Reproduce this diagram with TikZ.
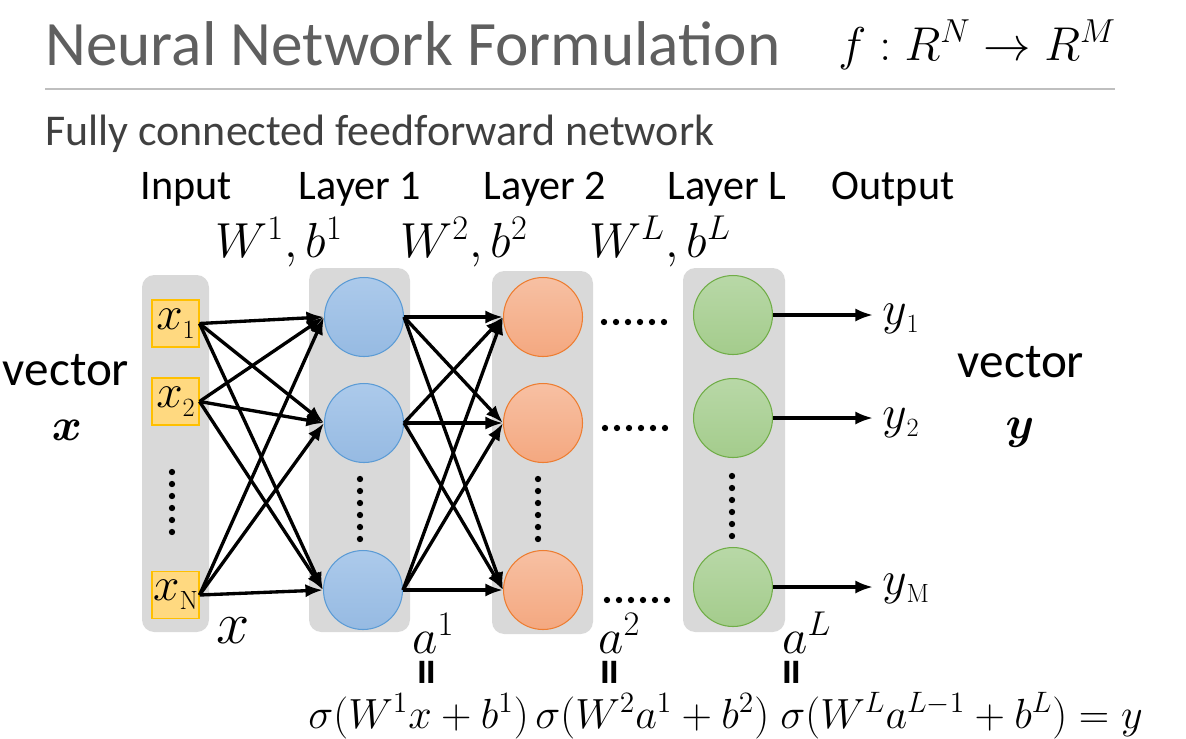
\RequirePackage{fix-cm}
\documentclass[tikz,border=0pt]{standalone}
\usepackage{amsmath}
\usepackage{fontspec}
\setsansfont{Carlito}
\usetikzlibrary{arrows.meta}

\definecolor{panelgray}{RGB}{217,217,217}
\definecolor{titlegray}{RGB}{95,95,95}
\definecolor{subgray}{RGB}{64,64,64}
\definecolor{rulegray}{RGB}{191,191,191}
\definecolor{boxfill}{RGB}{255,217,128}
\definecolor{boxline}{RGB}{255,192,0}
\definecolor{bluetop}{RGB}{172,202,235}
\definecolor{bluebot}{RGB}{150,186,226}
\definecolor{blueline}{RGB}{91,155,213}
\definecolor{orgtop}{RGB}{247,192,163}
\definecolor{orgbot}{RGB}{244,168,128}
\definecolor{orgline}{RGB}{237,125,49}
\definecolor{grntop}{RGB}{184,216,167}
\definecolor{grnbot}{RGB}{164,204,140}
\definecolor{grnline}{RGB}{112,173,71}

\newcommand{\vlab}[2]{{\fontsize{27}{30}\selectfont$#1$}\raisebox{-5pt}{\fontsize{15}{16}\selectfont #2}}

\begin{document}
\begin{tikzpicture}[x=0.02cm, y=-0.02cm,
    every node/.style={inner sep=0pt},
    head/.style={font=\sffamily\fontsize{24}{28}\selectfont, anchor=base},
    wlab/.style={font=\fontsize{28}{32}\selectfont, anchor=base},
    alab/.style={font=\fontsize{28}{32}\selectfont, anchor=base west},
    sig/.style={font=\fontsize{24}{26}\selectfont, anchor=base west},
    vert/.style={font=\sffamily\bfseries\fontsize{30}{32}\selectfont, rotate=90},
    inbox/.style={draw=boxline, fill=boxfill, line width=0.6pt, minimum size=0.94cm},
    neuron/.style={circle, line width=0.6pt, minimum size=1.58cm},
    blue/.style={neuron, draw=blueline, top color=bluetop, bottom color=bluebot},
    org/.style={neuron, draw=orgline, top color=orgtop, bottom color=orgbot},
    grn/.style={neuron, draw=grnline, top color=grntop, bottom color=grnbot},
    wire/.style={line width=1.9pt, -{Latex[length=10pt, width=7.5pt]}},
    ylab/.style={anchor=base west},
]
    \useasboundingbox (0,0) rectangle (1186,738);

    \node[anchor=base west, font=\sffamily\fontsize{36}{40}\selectfont, text=titlegray] (title) at (45,65) {Neural Network Formulation};
    \node[anchor=base west, font=\fontsize{27}{32}\selectfont] (fmap) at (838,60) {$f:R^N\rightarrow R^M$};
    \draw[rulegray, line width=1.2pt] (45,89) -- (1115,89);
    \node[anchor=base west, font=\sffamily\fontsize{25}{28}\selectfont, text=subgray] (sub) at (45,145) {Fully connected feedforward network};

    \node[head] (hin) at (186,199) {Input};
    \node[head] (hl1) at (360,199) {Layer 1};
    \node[head] (hl2) at (545,199) {Layer 2};
    \node[head] (hll) at (727,199) {Layer L};
    \node[head] (hout) at (893,199) {Output};

    \node[wlab] (w1) at (279,257) {$W^1,b^1$};
    \node[wlab] (w2) at (464,257) {$W^2,b^2$};
    \node[wlab] (wl) at (660,257) {$W^L,b^L$};

    \fill[panelgray, rounded corners=7pt] (142,275) rectangle (209,632);
    \fill[panelgray, rounded corners=7pt] (309,268) rectangle (410,632);
    \fill[panelgray, rounded corners=7pt] (492,271) rectangle (593,634);
    \fill[panelgray, rounded corners=7pt] (683,268) rectangle (785,632);

    \node[inbox] (x1) at (175.5,323.5) {\vlab{x}{1}};
    \node[inbox] (x2) at (175.5,401.5) {\vlab{x}{2}};
    \node[inbox] (xN) at (175.5,595) {\vlab{x}{N}};

    \node[blue] (l1n1) at (364,317) {};
    \node[blue] (l1n2) at (364,423) {};
    \node[blue] (l1nN) at (363,590) {};
    \node[org] (l2n1) at (543,317) {};
    \node[org] (l2n2) at (543,423) {};
    \node[org] (l2nN) at (543,590) {};
    \node[grn] (lLn1) at (733,315) {};
    \node[grn] (lLn2) at (733,418) {};
    \node[grn] (lLnN) at (733,587) {};

    \foreach \k in {0,...,5} {
        \fill (172,472+12*\k) circle (1.8pt);
        \fill (360,479+12*\k) circle (1.8pt);
        \fill (538,479+12*\k) circle (1.8pt);
        \fill (732,476+12*\k) circle (1.8pt);
        \fill (604+12*\k,322) circle (1.8pt);
        \fill (605+12*\k,428) circle (1.8pt);
        \fill (607+12*\k,600) circle (1.8pt);
    }

    \foreach \s in {x1,x2,xN}
        \foreach \t in {l1n1,l1n2,l1nN}
            \draw[wire] (\s.east) -- (\t.west);
    \foreach \s in {l1n1,l1n2,l1nN}
        \foreach \t in {l2n1,l2n2,l2nN}
            \draw[wire] (\s.east) -- (\t.west);

    \coordinate (y1tip) at (873,315);
    \coordinate (y2tip) at (873,418);
    \coordinate (yMtip) at (873,587);
    \draw[wire] (lLn1.east) -- (y1tip);
    \draw[wire] (lLn2.east) -- (y2tip);
    \draw[wire] (lLnN.east) -- (yMtip);
    \node[ylab] (y1) at (882,324) {\vlab{y}{1}};
    \node[ylab] (y2) at (882,428) {\vlab{y}{2}};
    \node[ylab] (yM) at (882,594) {\vlab{y}{M}};

    \node[anchor=base, font=\sffamily\fontsize{28}{30}\selectfont] (vx) at (66,385) {vector};
    \node[anchor=base, font=\fontsize{26}{30}\selectfont] (bx) at (67,440) {$\boldsymbol{x}$};
    \node[anchor=base, font=\sffamily\fontsize{28}{30}\selectfont] (vy) at (1021,377) {vector};
    \node[anchor=base, font=\fontsize{26}{30}\selectfont] (by) at (1020,438) {$\boldsymbol{y}$};

    \node[anchor=base, font=\fontsize{34}{38}\selectfont] (xvec) at (233,643) {$x$};
    \node[alab] (a1) at (412,653) {$a^1$};
    \node[alab] (a2) at (598,653) {$a^2$};
    \node[alab] (aL) at (782,653) {$a^L$};
    \node[vert] (e1) at (432,672) {=};
    \node[vert] (e2) at (615,672) {=};
    \node[vert] (eL) at (797,672) {=};

    \node[sig] (s1) at (308,728) {$\sigma(W^1x+b^1)$};
    \node[sig] (s2) at (535,728) {$\sigma(W^2a^1+b^2)$};
    \node[sig] (sL) at (780,728) {$\sigma(W^La^{L-1}+b^L)=y$};
\end{tikzpicture}
\end{document}
